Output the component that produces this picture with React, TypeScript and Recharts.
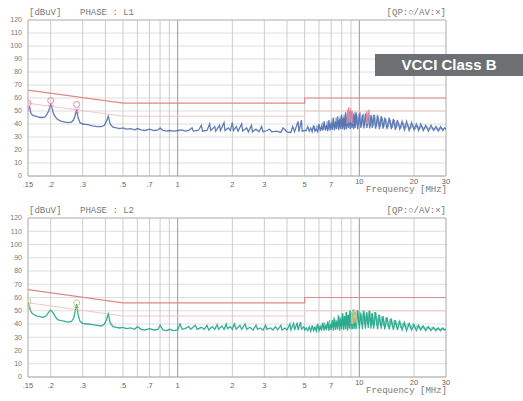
import { ComposedChart, Line, XAxis, YAxis, CartesianGrid, ReferenceLine } from 'recharts';

type Pt = [number, number | null];

// axis ticks and grid
const X_TICKS = [0.15, 0.2, 0.3, 0.5, 0.7, 1, 2, 3, 5, 7, 10, 20, 30];
const X_TICK_LABELS = ['.15', '.2', '.3', '.5', '.7', '1', '2', '3', '5', '7', '10', '20', '30'];
const Y_TICKS = [0, 10, 20, 30, 40, 50, 60, 70, 80, 90, 100, 110, 120];
const GRID_FREQS = [0.2, 0.3, 0.4, 0.5, 0.6, 0.7, 0.8, 0.9, 2, 3, 4, 5, 6, 7, 8, 9, 20];
const MAJOR_FREQS = [1, 10];

// VCCI Class B limits (QP / AV)
const QP_LIMIT: Pt[] = [[0.15, 66], [0.5, 56], [5, 56], [5, 60], [30, 60]];
const AV_LIMIT: Pt[] = [[0.15, 56], [0.5, 46], [5, 46], [5, 50], [30, 50]];

// PHASE L1 trace
const L1_TRACE: Pt[] = [
  [0.15, 51], [0.153, 53], [0.156, 48], [0.16, 46.5], [0.165, 46], [0.17, 45.5], [0.175, 45], [0.18, 45],
  [0.186, 45.5], [0.19, 47], [0.195, 50], [0.2, 55], [0.203, 53], [0.207, 48], [0.211, 46], [0.216, 44],
  [0.222, 43], [0.23, 42], [0.24, 41.5], [0.25, 41], [0.26, 41.5], [0.267, 43], [0.272, 46], [0.278, 51],
  [0.283, 45], [0.29, 41], [0.3, 40], [0.32, 39.5], [0.34, 38.5], [0.36, 38], [0.38, 38], [0.395, 39],
  [0.405, 42], [0.415, 46], [0.425, 40], [0.44, 37.5], [0.46, 37], [0.48, 36.5], [0.5, 37], [0.52, 36],
  [0.55, 36.5], [0.58, 35.5], [0.6, 36.5], [0.63, 35.5], [0.66, 35], [0.7, 36], [0.74, 35], [0.78, 35.5],
  [0.8, 37], [0.83, 35], [0.87, 34.5], [0.9, 35], [0.95, 34.5], [1.0, 35],
  [1.05, 35.5], [1.1, 34.5], [1.15, 35], [1.2, 37], [1.22, 34.5], [1.3, 35], [1.35, 39], [1.37, 34.5],
  [1.45, 35], [1.5, 40], [1.52, 35], [1.6, 38], [1.62, 34.5], [1.7, 39], [1.72, 35], [1.8, 41],
  [1.82, 35], [1.9, 37], [1.95, 35], [2.0, 41], [2.03, 35], [2.1, 38], [2.15, 34.5], [2.25, 40],
  [2.28, 34.5], [2.4, 37], [2.45, 34], [2.55, 39], [2.58, 34], [2.7, 36], [2.8, 34], [2.9, 38],
  [2.95, 34], [3.1, 35], [3.2, 36], [3.3, 34], [3.5, 34.5], [3.7, 33.5], [3.8, 37], [4.0, 34],
  [4.2, 33.5], [4.3, 38], [4.4, 34], [4.6, 42], [4.65, 34], [4.8, 43], [4.85, 34.5], [5.0, 35],
  [5.1, 35], [5.2, 38], [5.3, 34.5], [5.4, 37], [5.5, 34], [5.6, 39], [5.7, 34.5], [5.8, 36],
  [5.9, 34], [6.0, 40], [6.1, 34.5], [6.2, 38], [6.3, 35], [6.4, 42], [6.5, 35], [6.6, 39],
  [6.7, 34.5], [6.8, 43], [6.9, 35], [7.0, 41], [7.1, 35.5], [7.2, 45], [7.3, 35], [7.4, 42],
  [7.5, 36], [7.6, 46], [7.7, 35.5], [7.8, 44], [7.9, 36], [8.0, 47], [8.1, 36], [8.2, 45],
  [8.3, 35.5], [8.4, 49], [8.5, 36], [8.6, 48], [8.7, 37], [8.8, 50], [8.9, 36], [9.0, 49],
  [9.1, 37], [9.2, 48], [9.3, 36], [9.4, 47], [9.5, 37], [9.6, 49], [9.8, 36], [10.0, 48],
  [10.2, 37], [10.4, 47], [10.6, 36.5], [10.8, 48], [11.0, 37], [11.2, 48], [11.4, 36.5], [11.6, 47],
  [11.8, 37], [12.0, 47], [12.3, 36.5], [12.6, 47], [12.9, 36], [13.2, 46], [13.5, 36.5], [13.8, 45],
  [14.2, 36], [14.6, 45], [15.0, 36], [15.4, 44], [15.8, 35.5], [16.2, 43], [16.7, 36], [17.2, 42],
  [17.7, 35.5], [18.2, 42], [18.8, 35], [19.4, 41], [20, 35.5], [20.6, 40], [21.2, 35], [21.8, 40],
  [22.5, 35], [23.2, 39], [24, 34.5], [24.8, 39], [25.6, 35], [26.4, 38], [27.2, 34.5], [28, 38],
  [28.8, 35], [29.4, 37], [30, 36],
];
// second sweep of L1 in the busy 5-30 MHz band
const L1_DENSE: Pt[] = [
  [5.55, 36], [5.65, 38.5], [5.75, 35], [5.85, 39], [5.95, 35.5], [6.05, 38], [6.15, 36], [6.25, 41],
  [6.35, 36], [6.45, 39], [6.55, 36.5], [6.65, 42], [6.75, 36], [6.85, 40], [6.95, 37], [7.05, 44],
  [7.15, 36.5], [7.25, 41], [7.35, 37], [7.45, 45], [7.55, 37.5], [7.65, 43], [7.75, 37], [7.85, 46],
  [7.95, 38], [8.05, 44], [8.15, 37.5], [8.25, 47], [8.35, 38], [8.45, 45], [8.55, 38.5], [8.65, 49],
  [8.75, 38], [8.85, 47], [8.95, 39], [9.05, 50], [9.15, 38.5], [9.25, 48], [9.35, 39], [9.45, 49],
  [9.55, 38.5], [9.7, 47], [9.9, 39], [10.1, 49], [10.3, 38.5], [10.5, 48], [10.7, 39], [10.9, 47],
  [11.1, 38.5], [11.3, 48], [11.5, 38], [11.7, 46], [11.9, 38.5], [12.15, 47], [12.45, 38], [12.75, 45],
  [13.05, 38], [13.35, 45], [13.65, 37.5], [14.0, 44], [14.4, 37.5], [14.8, 43], [15.2, 37], [15.6, 43],
  [16.0, 37], [16.45, 41], [16.95, 36.5], [17.45, 41], [17.95, 36.5], [18.5, 40], [19.1, 36], [19.7, 39.5],
  [20.3, 36], [20.9, 39], [21.5, 36], [22.1, 38.5], [22.85, 36], [23.6, 38], [24.4, 35.5], [25.2, 37.5],
  [26, 35.5], [26.8, 37], [27.6, 35.5], [28.4, 37], [29.1, 36], [29.7, 37],
];

// pink (quasi-peak marked) spikes on L1
const L1_SPIKES: Pt[] = [
  [8.55, 40], [8.6, 51], [8.65, 41], [8.75, 53], [8.85, 41], [8.95, 52], [9.05, 41], [9.15, 50], [9.25, 40],
  [10, null],
  [10.9, 40], [11.0, 50], [11.1, 40], [11.3, 51], [11.4, 41],
];
const L1_QP: Pt[] = [[0.15, 56], [0.2, 58], [0.278, 55]];
const L1_AV: Pt[] = [[0.15, 51], [0.2, 53], [0.278, 50]];

// PHASE L2 trace
const L2_TRACE: Pt[] = [
  [0.15, 56], [0.152, 54], [0.155, 50], [0.158, 48], [0.162, 47], [0.168, 46], [0.175, 45.5], [0.18, 45],
  [0.186, 45.5], [0.19, 46.5], [0.195, 49], [0.2, 50.5], [0.205, 49], [0.21, 46.5], [0.216, 44], [0.222, 43],
  [0.23, 42.5], [0.24, 42], [0.25, 41.5], [0.26, 42], [0.267, 44], [0.272, 49], [0.278, 55], [0.283, 47],
  [0.29, 42], [0.3, 40.5], [0.32, 40], [0.34, 39.5], [0.36, 39], [0.38, 38.5], [0.395, 40], [0.405, 43],
  [0.415, 47.5], [0.425, 41], [0.44, 38], [0.46, 37.5], [0.48, 37], [0.5, 37.5], [0.52, 36.5], [0.55, 37],
  [0.58, 36], [0.6, 38], [0.63, 36], [0.66, 35.5], [0.7, 36.5], [0.74, 35.5], [0.78, 36], [0.8, 39],
  [0.83, 35.5], [0.87, 35], [0.9, 36], [0.95, 35], [1.0, 35.5],
  [1.03, 40], [1.06, 36], [1.1, 36.5], [1.15, 38], [1.18, 36], [1.25, 39], [1.28, 36], [1.35, 37.5],
  [1.4, 36], [1.45, 39], [1.48, 35.5], [1.55, 38], [1.6, 36], [1.65, 39.5], [1.68, 36], [1.75, 38.5],
  [1.8, 36], [1.85, 40], [1.88, 36.5], [1.95, 38], [2.0, 36], [2.05, 40], [2.1, 36], [2.2, 39],
  [2.25, 36], [2.35, 40], [2.4, 36], [2.5, 37.5], [2.6, 35.5], [2.7, 39], [2.75, 36], [2.85, 37],
  [2.95, 35.5], [3.05, 39], [3.1, 36], [3.25, 37], [3.35, 35.5], [3.45, 38], [3.55, 35.5], [3.7, 39],
  [3.75, 35.5], [3.9, 37], [4.0, 35.5], [4.15, 40], [4.2, 35.5], [4.35, 40.5], [4.4, 35.5], [4.55, 41],
  [4.6, 35.5], [4.75, 41.5], [4.8, 36], [4.95, 38], [5.0, 35.5],
  [5.1, 37], [5.2, 35], [5.3, 38], [5.4, 34.5], [5.5, 39], [5.6, 35], [5.7, 37.5], [5.8, 34.5],
  [5.9, 40], [6.0, 35], [6.1, 38], [6.2, 35], [6.3, 41], [6.4, 35], [6.5, 39], [6.6, 35.5],
  [6.7, 42], [6.8, 35], [6.9, 40], [7.0, 35.5], [7.1, 43], [7.2, 35], [7.3, 44], [7.4, 35.5],
  [7.5, 42], [7.6, 36], [7.7, 46], [7.8, 35], [7.9, 44], [8.0, 36], [8.1, 48], [8.2, 35.5],
  [8.3, 46], [8.4, 36], [8.5, 49], [8.6, 35], [8.7, 47], [8.8, 36.5], [8.9, 50], [9.0, 36],
  [9.1, 48], [9.2, 36], [9.3, 51], [9.4, 36.5], [9.5, 49], [9.6, 36], [9.8, 50.5], [10.0, 36.5],
  [10.2, 48], [10.4, 36], [10.6, 50], [10.8, 36.5], [11.0, 49], [11.2, 37], [11.4, 50], [11.6, 36.5],
  [11.8, 48], [12.0, 36.5], [12.3, 49], [12.6, 36], [12.9, 47], [13.2, 36.5], [13.5, 46], [13.8, 36],
  [14.2, 45], [14.6, 36], [15.0, 44], [15.4, 35.5], [15.8, 43], [16.2, 35.5], [16.7, 42], [17.2, 35.5],
  [17.7, 41], [18.2, 35], [18.8, 40.5], [19.4, 35.5], [20, 39.5], [20.6, 35], [21.2, 39], [21.8, 35.5],
  [22.5, 38.5], [23.2, 35], [24, 38], [24.8, 35], [25.6, 37.5], [26.4, 35], [27.2, 37], [28, 35],
  [28.8, 37], [29.4, 35.5], [30, 36],
];
const L2_DENSE: Pt[] = [
  [5.55, 36], [5.65, 38], [5.75, 35.5], [5.85, 39.5], [5.95, 36], [6.05, 38.5], [6.15, 36], [6.25, 40],
  [6.35, 36.5], [6.45, 41], [6.55, 36.5], [6.65, 40], [6.75, 37], [6.85, 43], [6.95, 37], [7.05, 41],
  [7.15, 37.5], [7.25, 45], [7.35, 37.5], [7.45, 43], [7.55, 38], [7.65, 47], [7.75, 38], [7.85, 45],
  [7.95, 38.5], [8.05, 48], [8.15, 38.5], [8.25, 46], [8.35, 39], [8.45, 49], [8.55, 39], [8.65, 47],
  [8.75, 39.5], [8.85, 50], [8.95, 39.5], [9.05, 48], [9.15, 40], [9.25, 51], [9.35, 39.5], [9.45, 49],
  [9.55, 40], [9.7, 50], [9.9, 39.5], [10.1, 49], [10.3, 40], [10.5, 50], [10.7, 39.5], [10.9, 48],
  [11.1, 40], [11.3, 50], [11.5, 39.5], [11.7, 48], [11.9, 39], [12.15, 49], [12.45, 39], [12.75, 47],
  [13.05, 38.5], [13.35, 46], [13.65, 38.5], [14.0, 45], [14.4, 38], [14.8, 44], [15.2, 37.5], [15.6, 43],
  [16.0, 37.5], [16.45, 42], [16.95, 37], [17.45, 41], [17.95, 37], [18.5, 40.5], [19.1, 36.5], [19.7, 40],
  [20.3, 36.5], [20.9, 39], [21.5, 36], [22.1, 38.5], [22.85, 36], [23.6, 38], [24.4, 36], [25.2, 37.5],
  [26, 35.5], [26.8, 37], [27.6, 35.5], [28.4, 37], [29.1, 35.5], [29.7, 36.5],
];
const L2_SPIKES: Pt[] = [
  [9.0, 40], [9.1, 49], [9.2, 40], [9.35, 51], [9.45, 41], [9.6, 50], [9.7, 40],
];
const L2_QP: Pt[] = [[0.15, 57], [0.278, 56]];
const L2_AV: Pt[] = [[0.15, 52], [0.278, 51]];

const toPts = (arr: Pt[]) => arr.map(([f, v]) => ({ f, v }));

const LABEL_FONT = '"Liberation Mono", "DejaVu Sans Mono", monospace';
const TICK_FONT = '"Liberation Sans", Arial, sans-serif';

function FreqTick(props: any) {
  const { x, y, payload } = props;
  const i = X_TICKS.indexOf(payload.value);
  const raised = payload.value >= 10;
  return (
    <text x={x} y={y + (raised ? 8 : 11)} textAnchor="middle" fontSize={7.5} fill="#666" fontFamily={TICK_FONT}>
      {X_TICK_LABELS[i]}
    </text>
  );
}

function Circle(color: string) {
  return (p: any) => {
    if (p.cx == null || p.cy == null) return <g key={p.key} />;
    return <circle key={p.key} cx={p.cx} cy={p.cy} r={3} fill="none" stroke={color} strokeWidth={1} />;
  };
}

function Cross(color: string) {
  return (p: any) => {
    if (p.cx == null || p.cy == null) return <g key={p.key} />;
    const s = 2.5;
    return (
      <g key={p.key} stroke={color} strokeWidth={1}>
        <line x1={p.cx - s} y1={p.cy - s} x2={p.cx + s} y2={p.cy + s} />
        <line x1={p.cx - s} y1={p.cy + s} x2={p.cx + s} y2={p.cy - s} />
      </g>
    );
  };
}

interface PanelProps {
  top: number;
  height: number;
  marginTop: number;
  axisHeight: number;
  phase: string;
  trace: Pt[];
  dense: Pt[];
  traceColor: string;
  denseColor: string;
  spikes: Pt[];
  spikeColor: string;
  qp: Pt[];
  av: Pt[];
}

function Panel(props: PanelProps) {
  const { top, height, marginTop, axisHeight, phase, trace, dense, traceColor, denseColor, spikes, spikeColor, qp, av } = props;
  const plotBottom = height - axisHeight;
  const labelStyle = { position: 'absolute' as const, fontSize: 9, lineHeight: '9px', color: '#777', fontFamily: LABEL_FONT };
  return (
    <div style={{ position: 'absolute', left: 0, top, width: 523, height }}>
      <ComposedChart width={523} height={height} margin={{ top: marginTop, right: 77, bottom: 0, left: 0 }}>
        <CartesianGrid vertical={false} stroke="#dedede" />
        <XAxis
          dataKey="f"
          type="number"
          scale="log"
          domain={[0.15, 30]}
          allowDataOverflow
          ticks={X_TICKS}
          interval={0}
          tick={<FreqTick />}
          tickLine={false}
          tickSize={0}
          tickMargin={0}
          height={axisHeight}
          axisLine={{ stroke: '#aaa' }}
        />
        <YAxis
          dataKey="v"
          type="number"
          domain={[0, 120]}
          ticks={Y_TICKS}
          interval={0}
          width={28}
          tickLine={false}
          tickSize={0}
          tickMargin={6}
          axisLine={{ stroke: '#aaa' }}
          tick={{ fontSize: 7, fill: '#777', fontFamily: TICK_FONT }}
        />
        {GRID_FREQS.map((f) => (
          <ReferenceLine key={f} x={f} stroke="#cccccc" strokeWidth={1} />
        ))}
        {MAJOR_FREQS.map((f) => (
          <ReferenceLine key={'m' + f} x={f} stroke="#999" strokeWidth={1} />
        ))}
        <ReferenceLine x={30} stroke="#aaa" />
        <ReferenceLine y={120} stroke="#bbb" />
        <Line data={toPts(AV_LIMIT)} dataKey="v" stroke="#f0c8c8" strokeWidth={1} dot={false} isAnimationActive={false} />
        <Line data={toPts(QP_LIMIT)} dataKey="v" stroke="#e08888" strokeWidth={1.2} dot={false} isAnimationActive={false} />
        <Line data={toPts(dense)} dataKey="v" stroke={denseColor} strokeWidth={1} strokeOpacity={0.85} dot={false} isAnimationActive={false} />
        <Line data={toPts(trace)} dataKey="v" stroke={traceColor} strokeWidth={1.3} strokeOpacity={0.9} dot={false} isAnimationActive={false} />
        <Line data={toPts(spikes)} dataKey="v" stroke={spikeColor} strokeWidth={1} dot={false} connectNulls={false} isAnimationActive={false} />
        <Line data={toPts(qp)} dataKey="v" stroke="none" dot={Circle(spikeColor)} isAnimationActive={false} />
        <Line data={toPts(av)} dataKey="v" stroke="none" dot={Cross(spikeColor)} isAnimationActive={false} />
      </ComposedChart>
      <div style={{ ...labelStyle, left: 29, top: marginTop - 11 }}>[dBuV]</div>
      <div style={{ ...labelStyle, left: 80, top: marginTop - 11 }}>{phase}</div>
      <div style={{ ...labelStyle, right: 523 - 446, top: marginTop - 11 }}>[QP:○/AV:×]</div>
      <div style={{ ...labelStyle, right: 523 - 447, top: plotBottom + 10 }}>Frequency [MHz]</div>
    </div>
  );
}

export default function App() {
  return (
    <div style={{ position: 'fixed', left: 0, top: 0, width: 523, height: 401, background: '#fff', overflow: 'hidden' }}>
      <Panel
        top={0}
        height={197}
        marginTop={20}
        axisHeight={21}
        phase="PHASE : L1"
        trace={L1_TRACE}
        dense={L1_DENSE}
        traceColor="#4f6fae"
        denseColor="#87a0d0"
        spikes={L1_SPIKES}
        spikeColor="#e58aa6"
        qp={L1_QP}
        av={L1_AV}
      />
      <Panel
        top={197}
        height={204}
        marginTop={21}
        axisHeight={24}
        phase="PHASE : L2"
        trace={L2_TRACE}
        dense={L2_DENSE}
        traceColor="#1fa68a"
        denseColor="#5cc3a9"
        spikes={L2_SPIKES}
        spikeColor="#cfc88e"
        qp={L2_QP}
        av={L2_AV}
      />
      <div
        style={{
          position: 'absolute',
          left: 375,
          top: 54,
          width: 148,
          height: 22,
          background: '#6d7072',
          color: '#fff',
          fontFamily: '"Liberation Sans", Arial, sans-serif',
          fontWeight: 'bold',
          fontSize: 15,
          lineHeight: '22px',
          textAlign: 'center',
        }}
      >
        VCCI Class B
      </div>
    </div>
  );
}
